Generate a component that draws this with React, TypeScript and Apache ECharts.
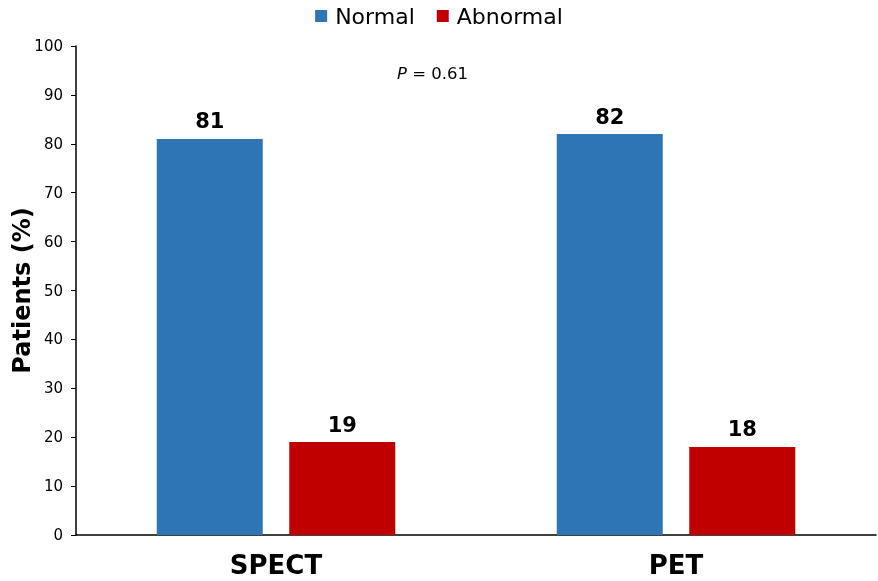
import React, { useEffect, useRef } from "react";
import * as echarts from "echarts";

const categories = ["SPECT", "PET"];
const normalValues = [81, 82];
const abnormalValues = [19, 18];
const seriesNames = ["Normal", "Abnormal"];
const pText = "0.61";

export default function App() {
  const ref = useRef<HTMLDivElement>(null);
  useEffect(() => {
    document.body.style.margin = "0";
    const chart = echarts.init(ref.current!, null, { renderer: "svg" });
    const font = "'DejaVu Sans', Arial, sans-serif";
    const labelCfg = {
      show: true,
      position: "top",
      distance: 7,
      fontFamily: font,
      fontWeight: "bold",
      fontSize: 21,
      color: "#000",
    };
    chart.setOption({
      animation: false,
      textStyle: { fontFamily: font },
      legend: {
        top: 0,
        left: "center",
        itemWidth: 12,
        itemHeight: 12,
        itemGap: 22,
        icon: "rect",
        textStyle: { fontSize: 22, color: "#000", fontFamily: font, padding: [0, 0, 0, 3] },
        data: seriesNames,
      },
      grid: {
        left: 76,
        right: 2,
        top: 46,
        bottom: 46,
        containLabel: false,
        outerBoundsMode: "none",
      },
      xAxis: {
        type: "category",
        data: categories,
        axisLine: { lineStyle: { color: "#000", width: 1.5 } },
        axisTick: { show: false },
        axisLabel: {
          fontSize: 26,
          lineHeight: 26,
          fontWeight: "bold",
          color: "#000",
          fontFamily: font,
          margin: 17,
        },
      },
      yAxis: {
        type: "value",
        min: 0,
        max: 100,
        interval: 10,
        name: "Patients (%)",
        nameLocation: "middle",
        nameGap: 42,
        nameMoveOverlap: false,
        nameTextStyle: {
          fontSize: 24,
          fontWeight: "bold",
          color: "#000",
          fontFamily: font,
        },
        axisLine: { show: true, lineStyle: { color: "#000", width: 1.5 } },
        axisTick: { show: true, length: 5, lineStyle: { color: "#000" } },
        splitLine: { show: false },
        axisLabel: { fontSize: 15, color: "#000", fontFamily: font, margin: 13 },
      },
      series: [
        {
          name: seriesNames[0],
          type: "bar",
          data: normalValues,
          barWidth: "26.5%",
          barGap: "25%",
          itemStyle: { color: "#2E75B6" },
          label: labelCfg,
        },
        {
          name: seriesNames[1],
          type: "bar",
          data: abnormalValues,
          barWidth: "26.5%",
          barGap: "25%",
          itemStyle: { color: "#C00000" },
          label: labelCfg,
        },
      ],
      graphic: [
        {
          type: "text",
          left: 397,
          top: 65,
          style: {
            text: "{i|P} = " + pText,
            fontFamily: font,
            fontSize: 16.5,
            fill: "#000",
            rich: {
              i: { fontStyle: "italic", fontSize: 16.5, fontFamily: font, fill: "#000" },
            },
          },
        },
      ],
    });
    return () => chart.dispose();
  }, []);
  return (
    <div
      ref={ref}
      style={{ position: "fixed", left: 0, top: 0, width: 878, height: 581 }}
    />
  );
}
